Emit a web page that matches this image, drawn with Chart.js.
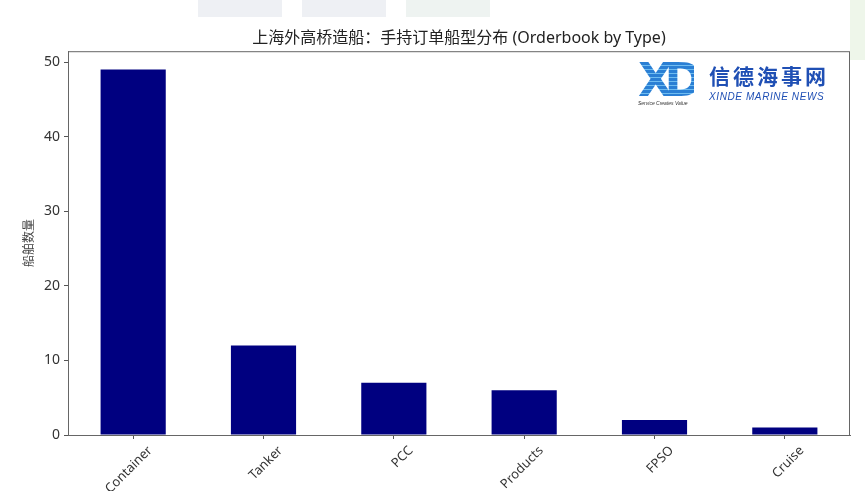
<!DOCTYPE html>
<html>
<head>
<meta charset="utf-8">
<script src="https://cdn.jsdelivr.net/npm/chart.js@4"></script>
<style>
  body { margin: 0; background: #fff; font-family: "Noto Sans", "Noto Sans CJK SC", sans-serif; }
  #wrap { position: relative; width: 865px; height: 491px; overflow: hidden; }
  .bg { position: absolute; top: 0; height: 17px; }
  #logo { position: absolute; left: 638px; top: 60px; width: 200px; height: 48px; pointer-events: none; }
  #xd { position: absolute; left: 0; top: -2px; font: 900 46px "DejaVu Sans", sans-serif; letter-spacing: -9px;
        background: repeating-linear-gradient(180deg, #2a7fd4 0 3px, #6fbcf0 3px 4px); -webkit-background-clip: text; color: transparent; line-height: 44px; }
  #svc { position: absolute; left: 0; top: 40px; font: italic 5px "Liberation Sans", sans-serif; color: #333; white-space: nowrap; }
  #cn { position: absolute; left: 71px; top: 3px; font: 700 21px "Noto Sans CJK SC", sans-serif; color: #1f4fb4; letter-spacing: 3px; line-height: 24px; }
  #en { position: absolute; left: 71px; top: 31px; font: italic 10px "Liberation Sans", sans-serif; color: #1f4fb4; letter-spacing: 0.6px; white-space: nowrap; }
</style>
</head>
<body>
<div id="wrap">
  <div class="bg" style="left:198px;width:84px;background:#eef0f4"></div>
  <div class="bg" style="left:302px;width:84px;background:#eef0f4"></div>
  <div class="bg" style="left:406px;width:84px;background:#eef3f1"></div>
  <div style="position:absolute;left:850px;top:0;width:15px;height:60px;background:#eef6ea"></div>
  <canvas id="chart" width="865" height="491"></canvas>
  <div id="logo">
    <div id="xd">XD</div>
    <div id="svc">Service Creates Value</div>
    <div id="cn">信德海事网</div>
    <div id="en">XINDE MARINE NEWS</div>
  </div>
</div>
<script>
const categories = ["Container", "Tanker", "PCC", "Products", "FPSO", "Cruise"];
const shipCounts = [49, 12, 7, 6, 2, 1];
const yTicks = [0, 10, 20, 30, 40, 50];

const titleText = "上海外高桥造船：手持订单船型分布 (Orderbook by Type)";
const yTitle = "船舶数量";

// matplotlib style box around the plot area
const frame = {
  id: "frame",
  afterDraw(chart) {
    const a = chart.chartArea;
    const ctx = chart.ctx;
    ctx.save();
    ctx.strokeStyle = "#666";
    ctx.lineWidth = 1;
    ctx.strokeRect(a.left + 0.5, a.top + 0.5, a.right - a.left - 1, a.bottom - a.top);
    ctx.restore();
  }
};

const fontFam = '"Noto Sans", "Noto Sans CJK SC", sans-serif';

new Chart(document.getElementById("chart"), {
  type: "bar",
  data: {
    labels: categories,
    datasets: [{
      data: shipCounts,
      backgroundColor: "#000080",
      borderWidth: 0,
      categoryPercentage: 1,
      barPercentage: 0.5
    }]
  },
  options: {
    responsive: false,
    animation: false,
    layout: { padding: { left: 22, right: 15, top: 0, bottom: 0 } },
    plugins: {
      legend: { display: false },
      tooltip: { enabled: false },
      title: {
        display: true,
        text: titleText,
        fullSize: false,
        color: "#222",
        font: { family: fontFam, size: 16, weight: "normal" },
        padding: { top: 29, bottom: 3 }
      }
    },
    scales: {
      x: {
        offset: true,
        grid: { offset: false, drawOnChartArea: false, drawTicks: true, tickLength: 4, color: "#555" },
        border: { display: true, color: "#666" },
        ticks: {
          color: "#333",
          font: { family: fontFam, size: 13 },
          minRotation: 45,
          maxRotation: 45,
          labelOffset: 17,
          padding: 4
        },
        afterFit(scale) { scale.height = 56; }
      },
      y: {
        min: 0,
        max: 51.45,
        grid: { drawOnChartArea: false, drawTicks: true, tickLength: 4, color: "#555" },
        border: { display: true, color: "#666" },
        ticks: {
          stepSize: 10,
          includeBounds: false,
          color: "#333",
          font: { family: fontFam, size: 14 },
          padding: 4,
          callback: (v) => yTicks.includes(v) ? v : null
        },
        title: {
          display: true,
          text: yTitle,
          color: "#444",
          font: { family: fontFam, size: 12 },
          padding: { top: 0, bottom: 0 }
        },
        afterFit(scale) { scale.width = 46; }
      }
    }
  },
  plugins: [frame]
});
</script>
</body>
</html>
